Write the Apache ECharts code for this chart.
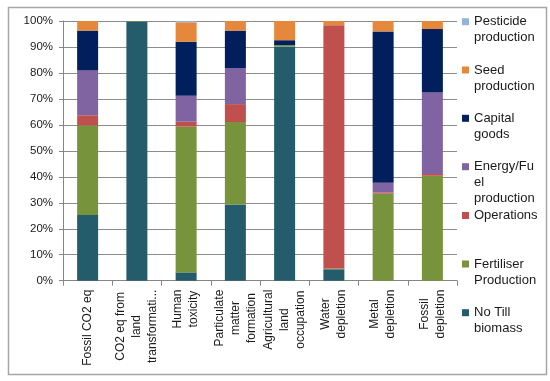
<!DOCTYPE html>
<html>
<head>
<meta charset="utf-8">
<script src="https://cdn.jsdelivr.net/npm/echarts@6/dist/echarts.min.js"></script>
<style>html,body{margin:0;padding:0;background:#fff}#c{width:550px;height:381px}</style>
</head>
<body>
<div id="c"></div>
<script>
const categories = [
  'Fossil CO2 eq',
  'CO2 eq from land transformati...',
  'Human toxicity',
  'Particulate matter formation',
  'Agricultural land occupation',
  'Water depletion',
  'Metal depletion',
  'Fossil depletion'
];
const categoryLines = [
  ['Fossil CO2 eq'],
  ['CO2 eq from', 'land', 'transformati...'],
  ['Human', 'toxicity'],
  ['Particulate', 'matter', 'formation'],
  ['Agricultural', 'land', 'occupation'],
  ['Water', 'depletion'],
  ['Metal', 'depletion'],
  ['Fossil', 'depletion']
];
const noTill     = [25.3, 99.8, 3.2, 29.3, 90.2, 4.4, 0, 0];
const fertiliser = [34.5, 0.2, 56.1, 31.8, 0.5, 0.3, 33.5, 40.4];
const operations = [3.9, 0, 1.9, 6.9, 0, 93.7, 0.5, 0.7];
const energy     = [17.4, 0, 10.0, 13.9, 0, 0, 3.7, 31.4];
const capital    = [15.2, 0, 20.8, 14.4, 1.9, 0, 58.3, 24.4];
const seed       = [3.7, 0, 7.5, 3.7, 7.4, 1.6, 4.0, 3.1];
const pesticide  = [0, 0, 0.5, 0, 0, 0, 0, 0];
const yTicks = [0, 10, 20, 30, 40, 50, 60, 70, 80, 90, 100];

const seriesDefs = [
  {name: 'No Till biomass', label: 'No Till\nbiomass', data: noTill, color: '#245c6b'},
  {name: 'Fertiliser Production', label: 'Fertiliser\nProduction', data: fertiliser, color: '#77933c'},
  {name: 'Operations', label: 'Operations', data: operations, color: '#c0504d'},
  {name: 'Energy/Fuel production', label: 'Energy/Fu\nel\nproduction', data: energy, color: '#8064a2'},
  {name: 'Capital goods', label: 'Capital\ngoods', data: capital, color: '#001f5c'},
  {name: 'Seed production', label: 'Seed\nproduction', data: seed, color: '#e5883c'},
  {name: 'Pesticide production', label: 'Pesticide\nproduction', data: pesticide, color: '#95b3d7'}
];
// legend first-line centres (top to bottom order = reversed stack)
const legendCenters = [21.7, 70, 118.3, 166.7, 215.5, 264, 312.7];

const FONT = 'Liberation Sans';
const LH = 16;

const legendDefs = seriesDefs.slice().reverse();
const legends = legendDefs.map((s, i) => {
  const n = s.label.split('\n').length;
  const text = '\n'.repeat(n - 1) + s.label;
  return {
    orient: 'vertical',
    left: 462,
    top: legendCenters[i] - (2 * n - 1) * LH / 2,
    padding: 0,
    itemWidth: 7,
    itemHeight: 7,
    itemGap: 0,
    icon: 'rect',
    selectedMode: false,
    data: [{name: s.name}],
    formatter: () => text,
    textStyle: {fontFamily: FONT, fontSize: 13, lineHeight: LH, color: '#1a1a1a'}
  };
});

const chart = echarts.init(document.getElementById('c'), null, {renderer: 'canvas'});
chart.setOption({
  animation: false,
  backgroundColor: '#fff',
  graphic: [{
    type: 'rect', left: 6, top: 5, z: -1,
    shape: {width: 538, height: 367},
    style: {fill: 'none', stroke: '#a6a6a6', lineWidth: 1.5}
  }],
  grid: {left: 63, right: 93, top: 21, bottom: 100.3, containLabel: false},
  legend: legends,
  xAxis: {
    type: 'category',
    data: categories,
    axisLine: {lineStyle: {color: '#868686', width: 1}},
    axisTick: {show: true, alignWithLabel: false, length: 5, lineStyle: {color: '#868686'}},
    axisLabel: {
      interval: 0, rotate: 90, margin: 9,
      fontSize: 12, lineHeight: LH, color: '#1a1a1a', fontFamily: FONT,
      formatter: (v, i) => categoryLines[categories.indexOf(v)].map(l => '{a|' + l + '}').join('\n'),
      rich: {a: {align: 'center'}}
    }
  },
  yAxis: {
    type: 'value', min: yTicks[0], max: yTicks[yTicks.length - 1], interval: 10,
    axisLine: {show: true, lineStyle: {color: '#868686'}},
    axisTick: {show: true, length: 4, lineStyle: {color: '#868686'}},
    splitLine: {lineStyle: {color: '#8c8c8c', width: 1}},
    axisLabel: {formatter: '{value}%', fontFamily: FONT, fontSize: 11.5, color: '#1a1a1a', margin: 10}
  },
  series: seriesDefs.map(s => ({
    name: s.name, type: 'bar', stack: 'total', barWidth: 21,
    data: s.data, itemStyle: {color: s.color}, emphasis: {disabled: true}
  }))
});
</script>
</body>
</html>
